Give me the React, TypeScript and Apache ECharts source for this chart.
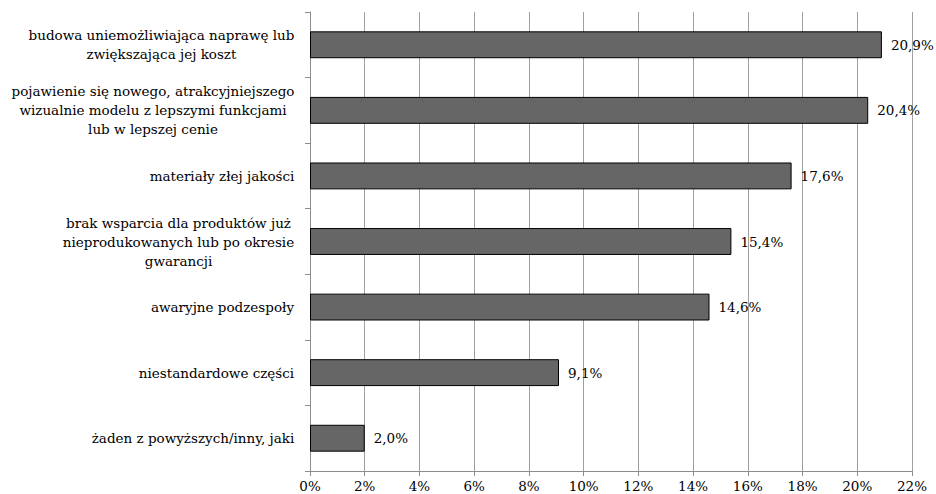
import React, { useEffect, useRef } from "react";
import * as echarts from "echarts";

const categories: string[] = [
  "budowa uniemożliwiająca naprawę lub\nzwiększająca jej koszt",
  "pojawienie się nowego, atrakcyjniejszego\nwizualnie modelu z lepszymi funkcjami\nlub w lepszej cenie",
  "materiały złej jakości",
  "brak wsparcia dla produktów już\nnieprodukowanych lub po okresie\ngwarancji",
  "awaryjne podzespoły",
  "niestandardowe części",
  "żaden z powyższych/inny, jaki",
];
const values: number[] = [20.9, 20.4, 17.6, 15.4, 14.6, 9.1, 2.0];
const xMin = 0;
const xMax = 22;
const xInterval = 2;

const FONT = "DejaVu Serif";

function measure(text: string, fs: number): number {
  const c = document.createElement("canvas");
  const ctx = c.getContext("2d");
  if (!ctx) return text.length * fs * 0.5;
  ctx.font = `${fs}px "${FONT}"`;
  return ctx.measureText(text).width;
}

export default function App() {
  const ref = useRef<HTMLDivElement>(null);
  useEffect(() => {
    document.body.style.margin = "0";
    if (!ref.current) return;
    // font size chosen so the first label line is about as wide as in the reference (~265px)
    const unit = measure("budowa uniemożliwiająca naprawę lub", 100) / 100;
    const FS = Math.max(12, Math.min(17, Math.round((265 / unit) * 2) / 2));
    const chart = echarts.init(ref.current, undefined, { renderer: "svg" });
    const rich: Record<string, any> = {};
    categories.forEach((cat, i) => {
      const w = Math.max(...cat.split("\n").map((l) => measure(l, FS)));
      rich["c" + i] = {
        width: Math.ceil(w) + 1,
        align: "center",
        fontSize: FS,
        fontFamily: FONT,
        lineHeight: 19,
        color: "#000",
      };
    });
    chart.setOption({
      animation: false,
      backgroundColor: "#fff",
      textStyle: { fontFamily: FONT },
      grid: {
        left: 310,
        right: 24,
        top: 12,
        bottom: 23,
        containLabel: false,
        outerBoundsMode: "none",
      },
      xAxis: {
        type: "value",
        min: xMin,
        max: xMax,
        interval: xInterval,
        axisLine: { show: true, lineStyle: { color: "#8c8c8c", width: 1 } },
        axisTick: { show: true, length: 5, lineStyle: { color: "#8c8c8c" } },
        splitLine: { show: true, lineStyle: { color: "#a0a0a0", width: 1 } },
        axisLabel: {
          formatter: (v: number) => `${v}%`,
          color: "#000",
          fontSize: FS,
          fontFamily: FONT,
          margin: 8,
        },
      },
      yAxis: {
        type: "category",
        inverse: true,
        data: categories,
        axisLine: { show: true, lineStyle: { color: "#8c8c8c", width: 1 } },
        axisTick: { show: true, length: 5, lineStyle: { color: "#8c8c8c" } },
        splitLine: { show: false },
        axisLabel: {
          margin: 15,
          interval: 0,
          fontFamily: FONT,
          fontSize: FS,
          formatter: (value: string, index: number) =>
            value
              .split("\n")
              .map((l) => `{c${index}|${l}}`)
              .join("\n"),
          rich,
        },
      },
      series: [
        {
          type: "bar",
          data: values,
          barCategoryGap: "59%",
          itemStyle: { color: "#666666", borderColor: "#000", borderWidth: 1 },
          label: {
            show: true,
            position: "right",
            distance: 9,
            formatter: (p: any) => `${Number(p.value).toFixed(1).replace(".", ",")}%`,
            color: "#000",
            fontSize: FS,
            fontFamily: FONT,
          },
        },
      ],
    });
    return () => chart.dispose();
  }, []);
  return <div ref={ref} style={{ width: 936, height: 494 }} />;
}
